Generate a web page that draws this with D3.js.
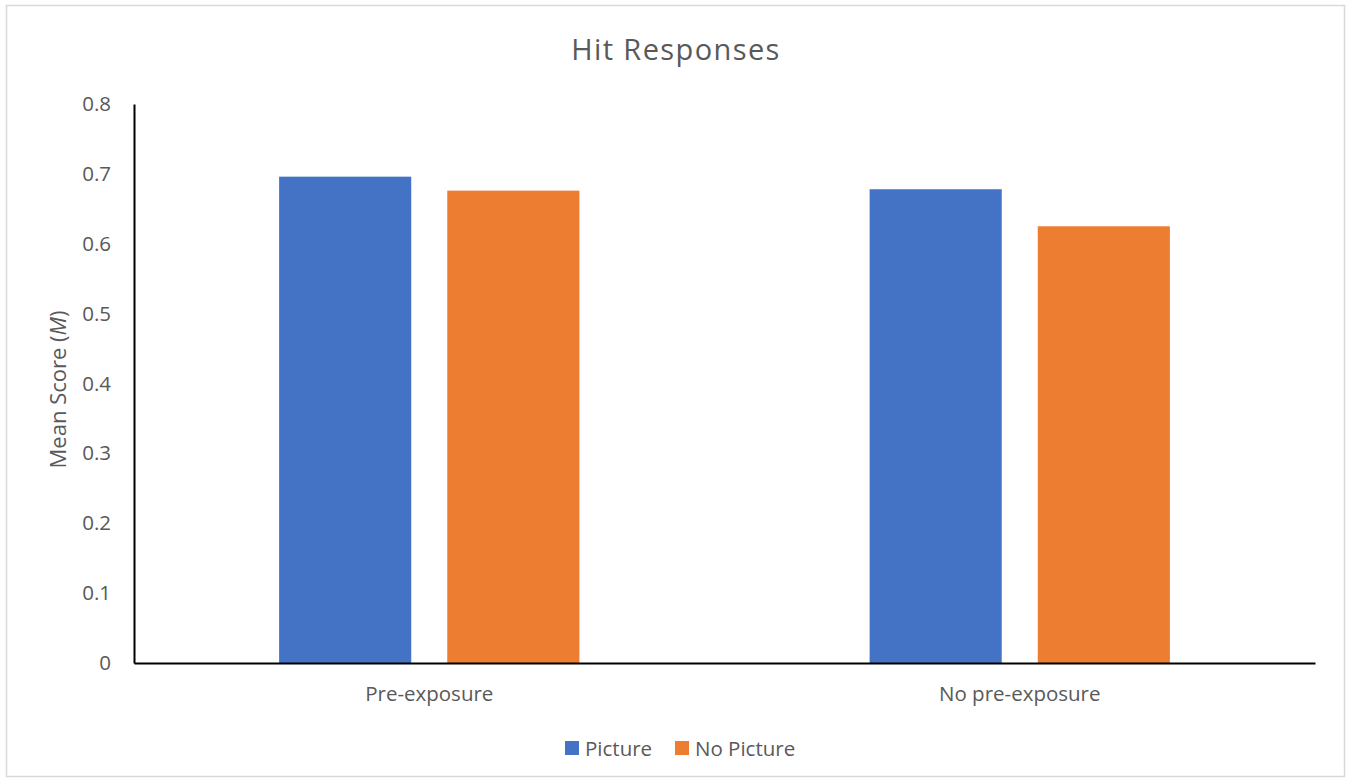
<!DOCTYPE html>
<html>
<head>
<meta charset="utf-8">
<script src="https://cdn.jsdelivr.net/npm/d3@7"></script>
<style>
  html, body { margin: 0; padding: 0; background: #fff; }
  svg { display: block; }
  text { font-family: "Open Sans", "Noto Sans", sans-serif; fill: #595959; }
</style>
</head>
<body>
<svg id="chart" width="1352" height="782"></svg>
<script>
const categories = ["Pre-exposure", "No pre-exposure"];
const seriesNames = ["Picture", "No Picture"];
const pictureValues = [0.696, 0.678];
const noPictureValues = [0.676, 0.625];
const yTicks = [0, 0.1, 0.2, 0.3, 0.4, 0.5, 0.6, 0.7, 0.8];
const colors = ["#4472C4", "#ED7D31"];
const title = "Hit Responses";

const svg = d3.select("#chart");

// chart border
svg.append("rect").attr("x", 6.5).attr("y", 5.5).attr("width", 1338).attr("height", 771)
  .attr("fill", "#fff").attr("stroke", "#d9d9d9").attr("stroke-width", 1.5);

const plot = { left: 134, right: 1315, top: 104, bottom: 663 };

const x0 = d3.scaleBand().domain(categories).range([plot.left, plot.right]).paddingInner(0).paddingOuter(0);
const x1 = d3.scaleBand().domain(seriesNames).range([0, x0.bandwidth()]).paddingInner(0.2143).paddingOuter(0.863);
const y = d3.scaleLinear().domain([0, 0.8]).range([plot.bottom, plot.top]);

const data = categories.map((c, i) => ({ cat: c, vals: [pictureValues[i], noPictureValues[i]] }));

const groups = svg.append("g").selectAll("g").data(data).join("g")
  .attr("transform", d => `translate(${x0(d.cat)},0)`);
groups.selectAll("rect").data(d => d.vals.map((v, j) => ({ name: seriesNames[j], v, j })))
  .join("rect")
  .attr("x", d => x1(d.name))
  .attr("width", x1.bandwidth())
  .attr("y", d => y(d.v))
  .attr("height", d => y(0) - y(d.v))
  .attr("fill", d => colors[d.j]);

// y axis
const yAxis = d3.axisLeft(y).tickValues(yTicks).tickSize(0).tickPadding(23)
  .tickFormat(d => d === 0 ? "0" : d3.format(".1f")(d));
const yg = svg.append("g").attr("transform", `translate(${plot.left},0)`).call(yAxis);
yg.select(".domain").attr("stroke", "#000").attr("stroke-width", 2);
yg.selectAll("text").style("font-size", "20.5px").attr("fill", "#595959")
  .style("font-family", '"Open Sans", sans-serif');

// x axis
const xAxis = d3.axisBottom(x0).tickSize(0).tickPadding(23);
const xg = svg.append("g").attr("transform", `translate(0,${plot.bottom})`).call(xAxis);
xg.select(".domain").attr("stroke", "#000").attr("stroke-width", 2);
xg.selectAll("text").style("font-size", "20.5px").attr("fill", "#595959")
  .style("font-family", '"Open Sans", sans-serif');

// title
svg.append("text").attr("x", 676).attr("y", 60).attr("text-anchor", "middle")
  .style("font-size", "29px").style("letter-spacing", "1.4px").text(title);

// y-axis title
const yt = svg.append("text").attr("transform", `translate(66,${(plot.top + plot.bottom) / 2 + 6}) rotate(-90)`)
  .attr("text-anchor", "middle").style("font-size", "22px");
yt.append("tspan").text("Mean Score (");
yt.append("tspan").style("font-style", "italic").text("M");
yt.append("tspan").text(")");

// legend
const legendX = [565, 675];
const lg = svg.append("g").selectAll("g").data(seriesNames).join("g")
  .attr("transform", (d, i) => `translate(${legendX[i]},741)`);
lg.append("rect").attr("width", 14).attr("height", 14).attr("fill", (d, i) => colors[i]);
lg.append("text").attr("x", 20).attr("y", 14.5).style("font-size", "20.5px").text(d => d);
</script>
</body>
</html>
